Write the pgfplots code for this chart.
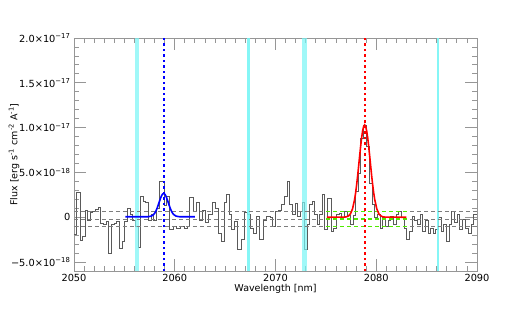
\documentclass[border=0pt]{standalone}
\usepackage{fontspec}
\setmainfont{DejaVu Sans}
\usepackage{pgfplots}
\pgfplotsset{compat=1.18}
\definecolor{histgray}{RGB}{90,90,90}
\definecolor{dashgray}{RGB}{125,125,125}
\definecolor{limeg}{RGB}{80,235,0}
\definecolor{bandcyan}{RGB}{120,245,245}
\definecolor{axgray}{RGB}{150,150,150}
\newcommand{\sq}[1]{\textsuperscript{#1}}
\begin{document}
\begin{tikzpicture}
\path[use as bounding box] (-74pt,-46pt) rectangle (443pt,271pt);
\begin{axis}[
  scale only axis, width=403pt, height=233pt,
  xmin=2050, xmax=2090, ymin=-6, ymax=20,
  xtick={2050,2060,2070,2080,2090},
  xticklabels={2050,2060,2070,2080,2090},
  minor x tick num=9,
  ytick={-5,0,5,10,15,20},
  yticklabels={{−5.0×10\sq{−18}},{0},{5.0×10\sq{−18}},{1.0×10\sq{−17}},{1.5×10\sq{−17}},{2.0×10\sq{−17}}},
  minor y tick num=4,
  tick align=inside,
  major tick length=12pt, minor tick length=5pt,
  tick style={draw=axgray, line width=0.8pt},
  axis line style={draw=axgray, line width=0.8pt},
  ticklabel style={font=\fontsize{9.8}{11}\selectfont},
  label style={font=\fontsize{9.5}{11}\selectfont},
  xlabel={Wavelength [nm]},
  ylabel={Flux [erg s\sq{-1} cm\sq{-2} A\sq{-1}]},
  xlabel style={at={(axis description cs:0.5,0)}, anchor=center, yshift=-18pt},
  ylabel style={at={(axis description cs:0,0.5)}, anchor=center, yshift=60pt},
]
% observed spectrum (units of 1e-18)
\addplot[const plot, histgray, line width=0.8pt] coordinates {
(2050.00,-1.9) (2050.26,2.8) (2050.60,-2.6) (2050.86,-2.1) (2051.10,0.8) (2051.30,-0.3)
(2051.60,0.5) (2051.85,0.65) (2052.10,0.9) (2052.40,1.1) (2052.65,-0.65) (2052.90,-0.8)
(2053.20,-0.45) (2053.45,-4.0) (2053.70,-0.8) (2053.97,-0.65) (2054.20,-0.45) (2054.50,-3.5)
(2054.76,-2.7) (2055.00,-0.45) (2055.30,1.0) (2055.56,0.3) (2055.80,-0.3) (2056.10,-1.0)
(2056.35,-3.4) (2056.60,2.3) (2056.90,1.8) (2057.10,1.6) (2057.40,-0.3) (2057.70,0.3)
(2057.90,-0.3) (2058.20,1.0) (2058.50,4.0) (2059.00,1.3) (2059.20,2.3) (2059.50,-1.4)
(2059.90,-1.0) (2060.20,-1.2) (2060.60,-1.0) (2061.00,-1.3) (2061.30,-1.0) (2061.50,2.2)
(2061.85,0.65) (2062.10,1.6) (2062.40,-0.3) (2062.70,0.8) (2063.00,-0.6) (2063.30,0.3)
(2063.70,1.6) (2064.00,1.0) (2064.30,-1.8) (2064.60,-2.7) (2064.90,1.6) (2065.10,2.5)
(2065.40,0.3) (2065.60,-1.4) (2065.90,-0.45) (2066.20,-3.6) (2066.60,-2.5) (2066.90,0.5)
(2067.20,0.3) (2067.50,-1.2) (2067.80,-1.8) (2068.10,0.1) (2068.40,-2.5) (2068.80,-0.3)
(2069.10,0.1) (2069.45,0.0) (2069.70,-1.0) (2069.95,0.65) (2070.30,0.8) (2070.60,1.4)
(2070.90,2.3) (2071.20,4.0) (2071.40,1.4) (2071.70,0.3) (2071.97,1.5) (2072.20,0.1)
(2072.50,0.6) (2072.70,1.7) (2072.90,-3.6) (2073.20,-0.8) (2073.40,1.4) (2073.70,1.75)
(2073.90,0.3) (2074.20,-0.8) (2074.40,0.3) (2074.70,2.6) (2074.90,-1.4) (2075.15,2.1)
(2075.50,-1.6) (2075.70,-1.2) (2076.00,0.3) (2076.30,0.45) (2076.50,0.0) (2076.80,0.65)
(2077.10,0.2) (2077.40,-0.8) (2077.70,0.2) (2077.90,2.9) (2078.20,4.9) (2078.45,8.8)
(2078.70,10.3) (2079.05,7.9) (2079.30,3.8) (2079.60,1.4) (2079.85,0.0) (2080.10,0.3)
(2080.40,-1.2) (2080.60,0.0) (2080.90,-1.0) (2081.20,-0.4) (2081.40,0.1) (2081.70,-0.8)
(2081.97,0.3) (2082.20,0.65) (2082.50,0.0) (2082.80,-1.2) (2083.00,-2.5) (2083.30,-1.6)
(2083.60,0.1) (2083.80,-0.4) (2084.10,-0.8) (2084.35,0.3) (2084.60,-1.6) (2084.90,-0.3)
(2085.15,-1.8) (2085.40,-1.2) (2085.70,-1.8) (2085.90,-1.4) (2086.20,0.0) (2086.50,-1.6)
(2086.70,-0.8) (2087.00,-2.7) (2087.30,-0.8) (2087.50,0.65) (2087.80,-0.6) (2088.05,0.3)
(2088.30,-1.4) (2088.60,-0.2) (2088.85,-1.2) (2089.10,-1.8) (2089.40,-0.8) (2089.65,0.3)
(2090.00,0.3)};
% sky-line bands
\addplot[draw=none, fill=bandcyan, fill opacity=0.7] coordinates {(2056.05,-6) (2056.5,-6) (2056.5,20) (2056.05,20)} -- cycle;
\addplot[draw=none, fill=bandcyan, fill opacity=0.9] coordinates {(2067.22,-6) (2067.42,-6) (2067.42,20) (2067.22,20)} -- cycle;
\addplot[draw=none, fill=bandcyan, fill opacity=0.7] coordinates {(2072.65,-6) (2073.1,-6) (2073.1,20) (2072.65,20)} -- cycle;
\addplot[draw=none, fill=bandcyan, fill opacity=0.9] coordinates {(2086.03,-6) (2086.22,-6) (2086.22,20) (2086.03,20)} -- cycle;
% noise levels
\addplot[dashgray, line width=0.8pt, dash pattern=on 4pt off 3pt] coordinates {(2050,0.6) (2090,0.6)};
\addplot[dashgray, line width=0.8pt, dash pattern=on 4pt off 3pt] coordinates {(2050,-0.2) (2090,-0.2)};
\addplot[dashgray, line width=0.8pt, dash pattern=on 4pt off 3pt] coordinates {(2050,-1.0) (2090,-1.0)};
\addplot[limeg, line width=1.4pt, dash pattern=on 4pt off 3pt] coordinates {(2075.0,0.65) (2083.1,0.65)};
\addplot[limeg, line width=1.4pt, dash pattern=on 4pt off 3pt] coordinates {(2075.0,-0.2) (2083.1,-0.2)};
\addplot[limeg, line width=1.4pt, dash pattern=on 4pt off 3pt] coordinates {(2075.0,-1.05) (2083.1,-1.05)};
% line centres
\addplot[blue, line width=2pt, dash pattern=on 2.5pt off 3pt] coordinates {(2058.9,-6) (2058.9,20)};
\addplot[red, line width=2pt, dash pattern=on 2.5pt off 3pt] coordinates {(2078.85,-6) (2078.85,20)};
% fitted profiles
\addplot[blue, line width=1.6pt, smooth] coordinates {
(2055.1,0.05) (2056.9,0.05) (2057.4,0.063) (2057.7,0.14) (2057.9,0.30) (2058.0,0.43)
(2058.1,0.62) (2058.2,0.87) (2058.3,1.16) (2058.4,1.49) (2058.5,1.83) (2058.6,2.15)
(2058.7,2.42) (2058.8,2.59) (2058.9,2.65) (2059.0,2.59) (2059.1,2.42) (2059.2,2.15)
(2059.3,1.83) (2059.4,1.49) (2059.5,1.16) (2059.6,0.87) (2059.7,0.62) (2059.8,0.43)
(2059.9,0.30) (2060.1,0.14) (2060.4,0.063) (2060.9,0.05) (2062.0,0.05)};
\addplot[red, line width=1.6pt] coordinates {
(2075.1,0) (2076.85,0.015) (2077.05,0.05) (2077.25,0.15) (2077.45,0.40) (2077.65,0.95)
(2077.85,1.97) (2077.95,2.70) (2078.05,3.57) (2078.15,4.58) (2078.25,5.68) (2078.35,6.81)
(2078.45,7.91) (2078.55,8.88) (2078.65,9.64) (2078.75,10.13) (2078.85,10.3) (2078.95,10.13)
(2079.05,9.64) (2079.15,8.88) (2079.25,7.91) (2079.35,6.81) (2079.45,5.68) (2079.55,4.58)
(2079.65,3.57) (2079.75,2.70) (2079.85,1.97) (2080.05,0.95) (2080.25,0.40) (2080.45,0.15)
(2080.65,0.05) (2080.85,0.015) (2083.0,0)};
\end{axis}
\end{tikzpicture}
\end{document}
